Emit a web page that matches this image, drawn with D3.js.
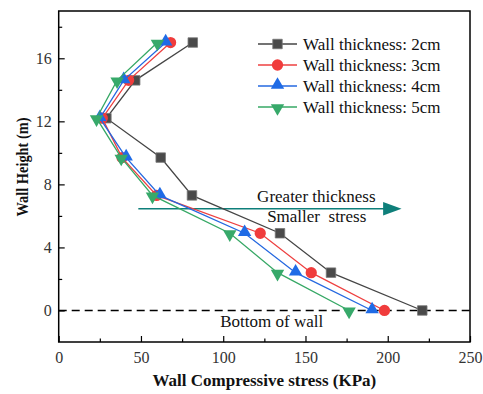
<!DOCTYPE html>
<html>
<head>
<meta charset="utf-8">
<script src="https://cdn.jsdelivr.net/npm/d3@7/dist/d3.min.js"></script>
<style>
  html, body { margin: 0; padding: 0; background: #fff; }
  svg { display: block; font-family: "Liberation Serif", "Times New Roman", serif; }
</style>
</head>
<body>
<svg id="chart" width="483" height="394"></svg>
<script>
// Wall height (m) at each measuring level
const heights = [17, 14.6, 12.2, 9.7, 7.3, 4.9, 2.4, 0];
// Compressive stress (KPa) for each wall thickness
const stress2cm = [81.5, 46.5, 29, 62, 81, 134.5, 165.5, 221];
const stress3cm = [68, 42.5, 26.5, 38.5, 59.5, 122.5, 153.5, 198];
const stress4cm = [65, 39.5, 25, 41, 61.5, 113, 144, 190.5];
const stress5cm = [60, 35.5, 23, 38, 57, 104, 133, 176.5];
const seriesNames = ["Wall thickness: 2cm", "Wall thickness: 3cm", "Wall thickness: 4cm", "Wall thickness: 5cm"];
const xTicks = [0, 50, 100, 150, 200, 250];
const yTicks = [0, 4, 8, 12, 16];

const series = [
  { name: seriesNames[0], values: stress2cm, line: "#454545", fill: "#4a4a4a", marker: "square" },
  { name: seriesNames[1], values: stress3cm, line: "#ee4040", fill: "#f03c3c", marker: "circle" },
  { name: seriesNames[2], values: stress4cm, line: "#2468e0", fill: "#1f6be6", marker: "triangle" },
  { name: seriesNames[3], values: stress5cm, line: "#36a865", fill: "#37a96a", marker: "triangleDown" }
];

const svg = d3.select("#chart");
const plot = { left: 58.7, right: 470, top: 11, bottom: 342 };

const x = d3.scaleLinear().domain([0, 250]).range([plot.left, plot.right]);
const y = d3.scaleLinear().domain([-2, 19]).range([plot.bottom, plot.top]);

// Axes with inward ticks
const xAxis = d3.axisBottom(x).tickValues(xTicks).tickSize(-6).tickPadding(10).tickFormat(d3.format("d"));
const xMinor = d3.axisBottom(x).tickValues([25, 75, 125, 175, 225]).tickSize(-3.5).tickFormat("");
const yAxis = d3.axisLeft(y).tickValues(yTicks).tickSize(-6).tickPadding(7).tickFormat(d3.format("d"));
const yMinor = d3.axisLeft(y).tickValues([2, 6, 10, 14, 18]).tickSize(-3.5).tickFormat("");

function styleAxis(g) {
  g.select(".domain").remove();
  g.selectAll(".tick line").attr("stroke", "#000").attr("stroke-width", 1.2);
  g.selectAll(".tick text").attr("fill", "#333").attr("font-size", 16)
    .attr("font-family", "Liberation Serif, Times New Roman, serif");
}

svg.append("g").attr("transform", `translate(0,${plot.bottom})`).call(xAxis).call(styleAxis);
svg.append("g").attr("transform", `translate(0,${plot.bottom})`).call(xMinor).call(styleAxis);
svg.append("g").attr("transform", `translate(${plot.left},0)`).call(yAxis).call(styleAxis);
svg.append("g").attr("transform", `translate(${plot.left},0)`).call(yMinor).call(styleAxis);

// Frame
svg.append("rect")
  .attr("x", plot.left).attr("y", plot.top)
  .attr("width", plot.right - plot.left).attr("height", plot.bottom - plot.top)
  .attr("fill", "none").attr("stroke", "#000").attr("stroke-width", 1.5);

// Bottom-of-wall reference line
svg.append("line")
  .attr("x1", plot.left).attr("x2", plot.right)
  .attr("y1", y(0)).attr("y2", y(0))
  .attr("stroke", "#000").attr("stroke-width", 1.3)
  .attr("stroke-dasharray", "8,5");

svg.append("text")
  .attr("x", x(129.5)).attr("y", y(0) + 17)
  .attr("text-anchor", "middle").attr("font-size", 17).attr("fill", "#111")
  .text("Bottom of wall");

// Trend arrow annotation
const arrowColor = "#0e7f7a";
const arrowY = y(6.45);
svg.append("line")
  .attr("x1", x(48.4)).attr("x2", x(198))
  .attr("y1", arrowY).attr("y2", arrowY)
  .attr("stroke", arrowColor).attr("stroke-width", 1.6);
svg.append("path")
  .attr("d", `M${x(197.2)},${arrowY - 6.8} L${x(208.4)},${arrowY} L${x(197.2)},${arrowY + 6.8} Z`)
  .attr("fill", arrowColor);

svg.append("text")
  .attr("x", x(120.6)).attr("y", arrowY - 6.5)
  .attr("font-size", 17).attr("fill", "#111")
  .text("Greater thickness");
svg.append("text")
  .attr("x", x(126.7)).attr("y", arrowY + 13.5)
  .attr("font-size", 17).attr("fill", "#111")
  .style("white-space", "pre")
  .text("Smaller  stress");

// Marker shapes
const symbolFor = {
  square: d3.symbol().type(d3.symbolSquare).size(90),
  circle: d3.symbol().type(d3.symbolCircle).size(100),
  triangle: d3.symbol().type(d3.symbolTriangle).size(78),
  triangleDown: d3.symbol().type(d3.symbolTriangle).size(78)
};

function drawMarker(g, s, cx, cy) {
  const p = g.append("path")
    .attr("d", symbolFor[s.marker]())
    .attr("fill", s.fill)
    .attr("stroke", s.marker === "square" ? "#777" : "none")
    .attr("stroke-width", 0.8);
  if (s.marker === "triangleDown") {
    p.attr("transform", `translate(${cx},${cy + 1}) rotate(180)`);
  } else if (s.marker === "triangle") {
    p.attr("transform", `translate(${cx},${cy - 1})`);
  } else {
    p.attr("transform", `translate(${cx},${cy})`);
  }
}

const line = d3.line().x(d => x(d[0])).y(d => y(d[1]));

series.forEach(s => {
  const pts = s.values.map((v, i) => [v, heights[i]]);
  const g = svg.append("g");
  g.append("path")
    .attr("d", line(pts))
    .attr("fill", "none")
    .attr("stroke", s.line)
    .attr("stroke-width", 1.3);
  pts.forEach(p => drawMarker(g, s, x(p[0]), y(p[1])));
});

// Legend
const legend = svg.append("g");
series.forEach((s, i) => {
  const ly = 44 + i * 21;
  legend.append("line")
    .attr("x1", 258).attr("x2", 297)
    .attr("y1", ly).attr("y2", ly)
    .attr("stroke", s.line).attr("stroke-width", 1.3);
  drawMarker(legend, s, 277.5, ly);
  legend.append("text")
    .attr("x", 303).attr("y", ly + 6)
    .attr("font-size", 17).attr("fill", "#111")
    .text(s.name);
});

// Axis titles
svg.append("text")
  .attr("x", (plot.left + plot.right) / 2).attr("y", 386)
  .attr("text-anchor", "middle")
  .attr("font-size", 17).attr("font-weight", "bold").attr("fill", "#111")
  .text("Wall Compressive stress (KPa)");

svg.append("text")
  .attr("transform", `translate(27.5,167) rotate(-90)`)
  .attr("text-anchor", "middle")
  .attr("font-size", 16.5).attr("font-weight", "bold").attr("fill", "#111")
  .attr("textLength", 99).attr("lengthAdjust", "spacingAndGlyphs")
  .text("Wall Height (m)");
</script>
</body>
</html>
